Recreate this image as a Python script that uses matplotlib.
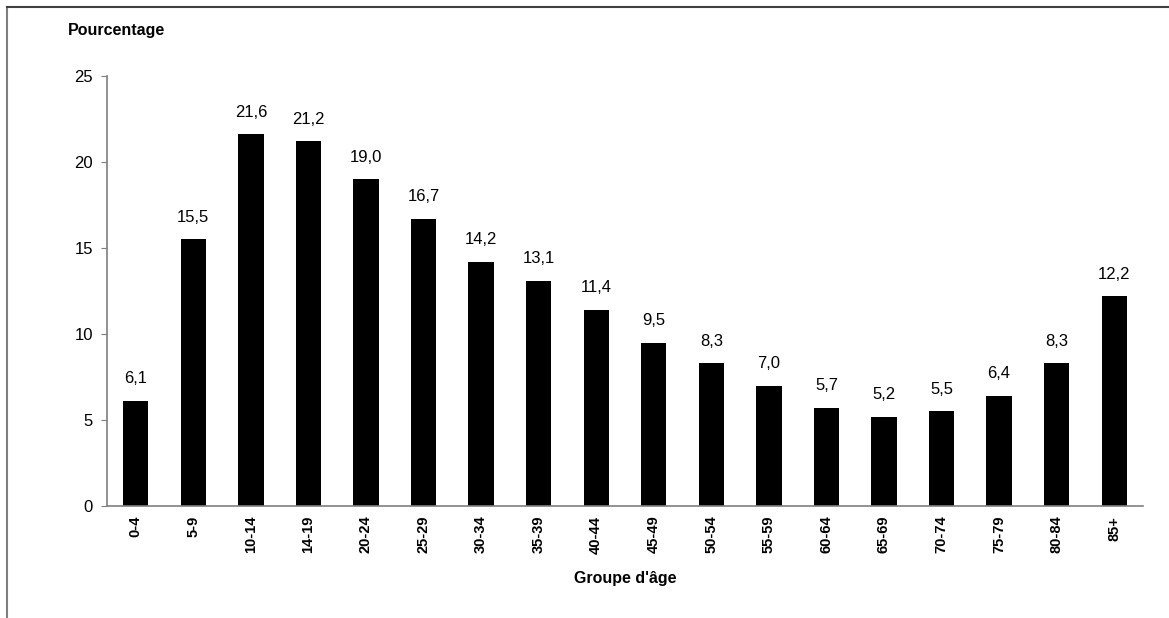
import matplotlib.pyplot as plt
import numpy as np

plt.rcParams["font.family"] = ["Liberation Sans", "DejaVu Sans"]

age_groups = ["0-4", "5-9", "10-14", "14-19", "20-24", "25-29", "30-34", "35-39",
              "40-44", "45-49", "50-54", "55-59", "60-64", "65-69", "70-74",
              "75-79", "80-84", "85+"]
percentages = [6.1, 15.5, 21.6, 21.2, 19.0, 16.7, 14.2, 13.1, 11.4, 9.5,
               8.3, 7.0, 5.7, 5.2, 5.5, 6.4, 8.3, 12.2]

W, H, dpi = 1169, 618, 100
fig = plt.figure(figsize=(W / dpi, H / dpi), dpi=dpi)

# partial outer frame (top and left only visible)
fig.add_artist(plt.Line2D([7 / W, 7 / W], [0, 1 - 7 / H], transform=fig.transFigure,
                          color="#7f7f7f", lw=1.5))
fig.add_artist(plt.Line2D([7 / W, 1], [1 - 7 / H, 1 - 7 / H], transform=fig.transFigure,
                          color="#404040", lw=1.5))

left, right, bottom, top = 107, 1143, 506, 76
ax = fig.add_axes([left / W, 1 - bottom / H, (right - left) / W, (bottom - top) / H])

x = np.arange(len(age_groups))
ax.bar(x, percentages, width=0.44, color="black")
ax.set_xlim(-0.5, len(age_groups) - 0.5)
ax.set_ylim(0, 25)
ax.set_yticks(range(0, 26, 5))

for xi, v in zip(x, percentages):
    ax.text(xi, v + 0.85, f"{v:.1f}".replace(".", ","), ha="center", va="bottom",
            fontsize=12)

ax.set_xticks(x)
ax.set_xticklabels(age_groups, rotation=90, fontsize=10.5, fontweight="bold")
ax.tick_params(axis="x", length=0, pad=7)
ax.tick_params(axis="y", length=4, color="#7f7f7f", labelsize=12, pad=6)

for side in ["top", "right"]:
    ax.spines[side].set_visible(False)
for side in ["left", "bottom"]:
    ax.spines[side].set_color("#7f7f7f")
    ax.spines[side].set_linewidth(1.2)

fig.text(68 / W, 1 - 30 / H, "Pourcentage", fontsize=11.5, fontweight="bold",
         ha="left", va="center")
fig.text(625 / W, 1 - 578 / H, "Groupe d'âge", fontsize=11.5, fontweight="bold",
         ha="center", va="center")

fig.savefig("out.png", dpi=dpi, facecolor="white")
